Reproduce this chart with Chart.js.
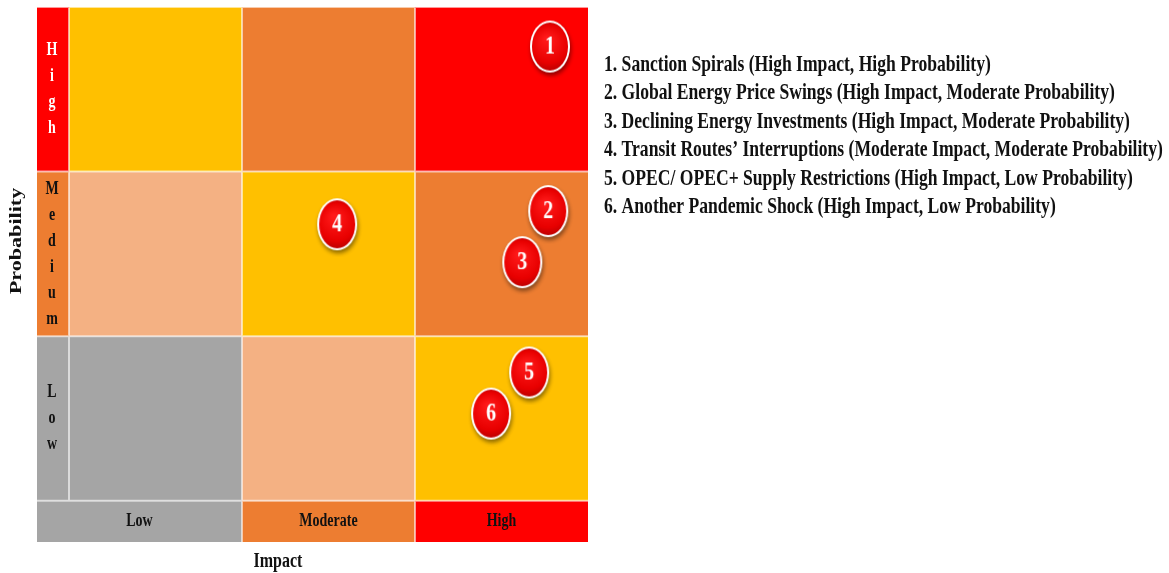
<!DOCTYPE html>
<html><head><meta charset="utf-8">
<script src="https://cdn.jsdelivr.net/npm/chart.js@4"></script>
<style>html,body{margin:0;padding:0;background:#fff}#wrap{width:1169px;height:573px;position:relative}</style>
</head><body><div id="wrap"><canvas id="c"></canvas></div>
<script>
// ---- data ----
const impactLevels = ['Low', 'Moderate', 'High'];
const probabilityLevels = ['Low', 'Medium', 'High'];
// risk level of each cell (0 = lowest … 4 = highest), impact Low→High
const riskLevelLowProb = [0, 1, 2];
const riskLevelMediumProb = [1, 2, 3];
const riskLevelHighProb = [2, 3, 4];
// level used for the band labels (probability Low, Medium, High / impact Low, Moderate, High)
const probabilityBandLevel = [0, 3, 4];
const impactBandLevel = [0, 3, 4];
const riskIds = [1, 2, 3, 4, 5, 6];
const riskImpact = [2.78, 2.77, 2.62, 1.55, 2.66, 2.44];
const riskProbability = [2.76, 1.76, 1.45, 1.68, 0.78, 0.53];
const riskNames = [
  'Sanction Spirals (High Impact, High Probability)',
  'Global Energy Price Swings (High Impact, Moderate Probability)',
  'Declining Energy Investments (High Impact, Moderate Probability)',
  'Transit Routes\u2019 Interruptions (Moderate Impact, Moderate Probability)',
  'OPEC/ OPEC+ Supply Restrictions (High Impact, Low Probability)',
  'Another Pandemic Shock (High Impact, Low Probability)'
];
const xTitle = 'Impact';
const yTitle = 'Probability';

// ---- styles ----
const levelColors = ['#A5A5A5', '#F4B183', '#FFC000', '#ED7D31', '#FF0000'];
const SERIF = '"Liberation Serif", "Times New Roman", serif';
const STRETCH = 1.3;
const riskLevels = [riskLevelLowProb, riskLevelMediumProb, riskLevelHighProb];

function drawText(ctx, txt, x, y, size, color, align, rot) {
  ctx.save();
  ctx.translate(x, y);
  if (rot) { ctx.rotate(rot); ctx.scale(STRETCH, 1); } else { ctx.scale(1, STRETCH); }
  ctx.font = 'bold ' + size + 'px ' + SERIF;
  ctx.fillStyle = color;
  ctx.textAlign = align || 'center';
  ctx.textBaseline = 'middle';
  ctx.fillText(txt, 0, 0);
  ctx.restore();
}

function makeMarker(num) {
  const rx = 20, ry = 26, pad = 7;
  const c = document.createElement('canvas');
  c.width = 2 * (rx + pad); c.height = 2 * (ry + pad);
  const g = c.getContext('2d');
  const cx = c.width / 2, cy = c.height / 2;
  g.save();
  g.shadowColor = 'rgba(0,0,0,0.45)';
  g.shadowBlur = 4; g.shadowOffsetX = 1; g.shadowOffsetY = 3;
  g.beginPath(); g.ellipse(cx, cy, rx, ry, 0, 0, Math.PI * 2);
  g.fillStyle = '#ffffff'; g.fill();
  g.restore();
  const grd = g.createRadialGradient(cx - 3, cy - 8, 2, cx, cy, ry);
  grd.addColorStop(0, '#FF1A1A');
  grd.addColorStop(0.7, '#E80000');
  grd.addColorStop(1, '#B40000');
  g.beginPath(); g.ellipse(cx, cy, rx - 2, ry - 2, 0, 0, Math.PI * 2);
  g.fillStyle = grd; g.fill();
  g.save();
  g.translate(cx, cy + 1);
  g.scale(1, 1.25);
  g.font = 'bold 20px ' + SERIF;
  g.fillStyle = '#ffffff';
  g.textAlign = 'center'; g.textBaseline = 'middle';
  g.fillText(String(num), 0, 0);
  g.restore();
  return c;
}
const markers = riskIds.map(makeMarker);

const matrixPlugin = {
  id: 'matrix',
  beforeDatasetsDraw(chart) {
    const { ctx, scales: { x, y } } = chart;
    const px = v => x.getPixelForValue(v), py = v => y.getPixelForValue(v);
    const rect = (x0, x1, y0, y1, col) => {
      ctx.fillStyle = col;
      ctx.fillRect(px(x0), py(y1), px(x1) - px(x0), py(y0) - py(y1));
    };
    ctx.save();
    for (let r = 0; r < probabilityLevels.length; r++) {
      rect(x.min, 0, r, r + 1, levelColors[probabilityBandLevel[r]]);
      for (let c = 0; c < impactLevels.length; c++) {
        rect(c, c + 1, r, r + 1, levelColors[riskLevels[r][c]]);
      }
    }
    for (let c = 0; c < impactLevels.length; c++) {
      rect(c === 0 ? x.min : c, c + 1, y.min, 0, levelColors[impactBandLevel[c]]);
    }
    // separators
    ctx.strokeStyle = 'rgba(255,255,255,0.6)';
    ctx.lineWidth = 2;
    ctx.beginPath();
    for (let r = 0; r <= probabilityLevels.length; r++) {
      ctx.moveTo(px(x.min), py(r)); ctx.lineTo(px(x.max), py(r));
    }
    ctx.moveTo(px(0), py(0)); ctx.lineTo(px(0), py(y.max));
    for (let c = 1; c < impactLevels.length; c++) {
      ctx.moveTo(px(c), py(y.min)); ctx.lineTo(px(c), py(y.max));
    }
    ctx.stroke();
    // probability band letters
    const lx = (px(x.min) + px(0)) / 2;
    for (let r = 0; r < probabilityLevels.length; r++) {
      const letters = probabilityLevels[r].split('');
      const cy = (py(r) + py(r + 1)) / 2;
      const col = r === 2 ? '#ffffff' : '#111111';
      letters.forEach((ch, i) => {
        drawText(ctx, ch, lx - 1, cy + (i - (letters.length - 1) / 2) * 26, 14, col);
      });
    }
    // impact band labels
    for (let c = 0; c < impactLevels.length; c++) {
      const x0 = c === 0 ? x.min : c;
      drawText(ctx, impactLevels[c], (px(x0) + px(c + 1)) / 2, (py(y.min) + py(0)) / 2, 14, '#111111');
    }
    ctx.restore();
  },
  afterDraw(chart) {
    const { ctx } = chart;
    drawText(ctx, xTitle, 278, 562, 16, '#111111');
    drawText(ctx, yTitle, 17, 241, 17, '#111111', 'center', -Math.PI / 2);
    riskNames.forEach((n, i) => {
      drawText(ctx, riskIds[i] + '. ' + n, 604, 65 + i * 28.5, 17.6, '#111111', 'left');
    });
  }
};

new Chart(document.getElementById('c'), {
  type: 'scatter',
  data: {
    datasets: [{
      data: riskImpact.map((v, i) => ({ x: v, y: riskProbability[i] })),
      pointStyle: ctx => markers[ctx.dataIndex],
      pointRadius: 20,
      clip: false
    }]
  },
  options: {
    responsive: true,
    maintainAspectRatio: false,
    animation: false,
    layout: { autoPadding: false, padding: { left: 37, right: 581, top: 7, bottom: 31 } },
    plugins: { legend: { display: false }, tooltip: { enabled: false } },
    scales: {
      x: { type: 'linear', min: -0.185, max: 3, display: false },
      y: { type: 'linear', min: -0.25, max: 3, display: false }
    }
  },
  plugins: [matrixPlugin]
});
</script></body></html>
